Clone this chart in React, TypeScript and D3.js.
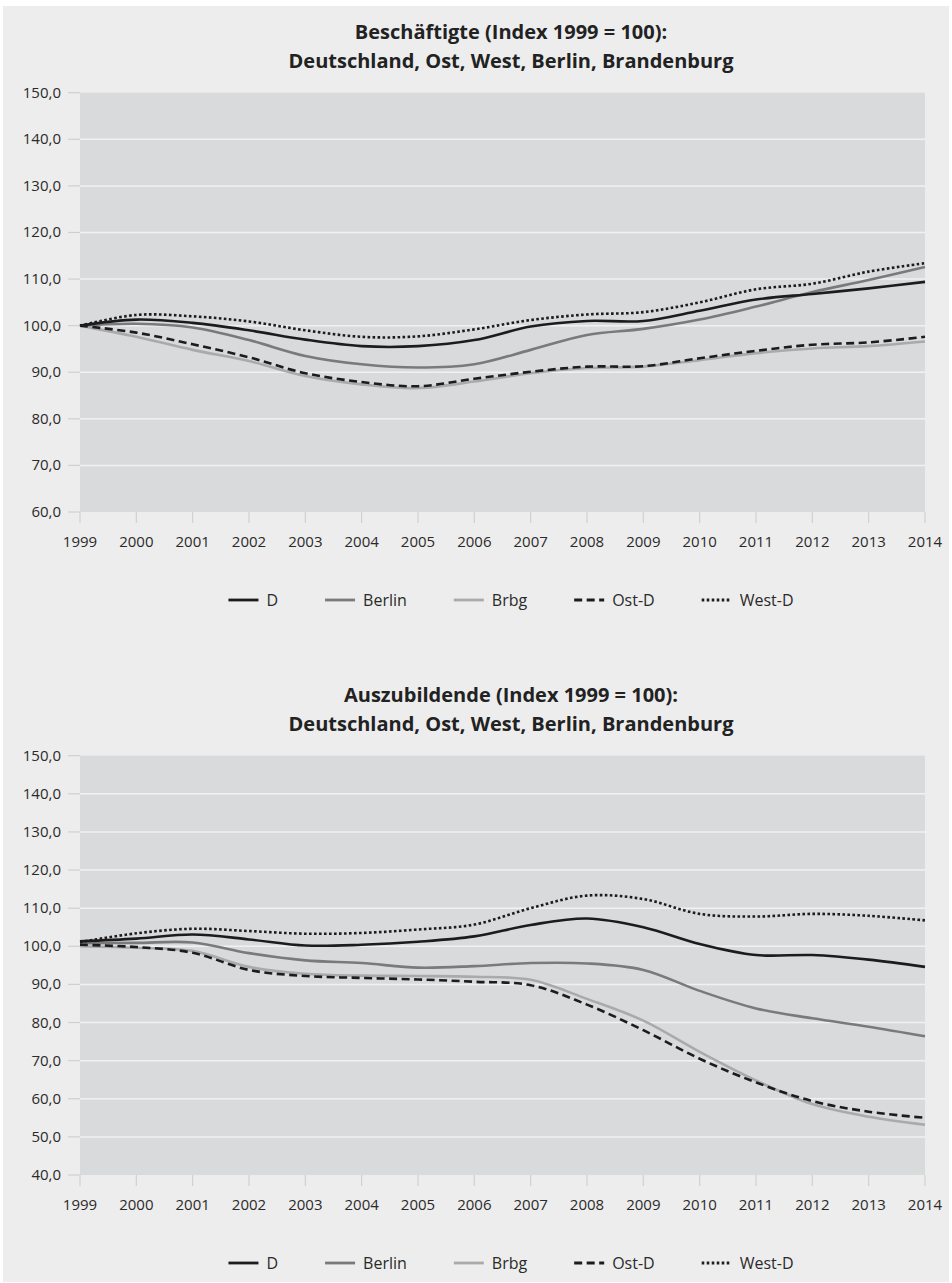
import { useEffect, useRef } from "react";
import * as d3 from "d3";

const years = [1999, 2000, 2001, 2002, 2003, 2004, 2005, 2006, 2007, 2008, 2009, 2010, 2011, 2012, 2013, 2014];
const seriesNames = ["D", "Berlin", "Brbg", "Ost-D", "West-D"];

// Beschäftigte
const empD = [100, 101.3, 100.6, 99.0, 97.0, 95.6, 95.6, 96.9, 99.8, 101.0, 101.0, 103.2, 105.6, 106.8, 108.0, 109.4];
const empBerlin = [100, 100.4, 99.6, 96.9, 93.5, 91.7, 91.0, 91.7, 94.8, 98.0, 99.3, 101.3, 104.1, 107.2, 109.8, 112.6];
const empBrbg = [100, 97.6, 94.8, 92.4, 89.2, 87.4, 86.6, 88.0, 89.8, 90.9, 91.2, 92.6, 94.1, 95.1, 95.6, 96.6];
const empOst = [100, 98.5, 96.0, 93.2, 89.8, 87.9, 87.0, 88.6, 90.1, 91.2, 91.3, 93.0, 94.6, 95.9, 96.4, 97.6];
const empWest = [100, 102.3, 102.0, 100.9, 99.0, 97.6, 97.7, 99.2, 101.2, 102.4, 102.9, 105.0, 107.8, 109.0, 111.6, 113.4];

// Auszubildende
const trainD = [101.3, 102.0, 103.1, 101.8, 100.2, 100.4, 101.2, 102.6, 105.6, 107.3, 105.0, 100.6, 97.7, 97.7, 96.5, 94.6];
const trainBerlin = [100.8, 100.9, 101.0, 98.2, 96.3, 95.6, 94.4, 94.8, 95.6, 95.5, 93.8, 88.3, 83.7, 81.1, 78.9, 76.4];
const trainBrbg = [100.0, 99.6, 98.8, 94.6, 92.8, 92.3, 92.2, 92.0, 91.2, 86.2, 80.5, 72.3, 64.8, 58.6, 55.3, 53.2];
const trainOst = [100.4, 99.8, 98.3, 93.8, 92.2, 91.7, 91.3, 90.7, 89.8, 84.7, 78.0, 70.5, 64.3, 59.4, 56.6, 55.0];
const trainWest = [101.1, 103.4, 104.6, 104.0, 103.3, 103.5, 104.4, 105.7, 110.0, 113.3, 112.4, 108.5, 107.8, 108.5, 108.0, 106.8];

const empTitle = ["Beschäftigte (Index 1999 = 100):", "Deutschland, Ost, West, Berlin, Brandenburg"];
const trainTitle = ["Auszubildende (Index 1999 = 100):", "Deutschland, Ost, West, Berlin, Brandenburg"];
const empTicks = [60, 70, 80, 90, 100, 110, 120, 130, 140, 150];
const trainTicks = [40, 50, 60, 70, 80, 90, 100, 110, 120, 130, 140, 150];

const styles: Record<string, { color: string; dash: string | null }> = {
  D: { color: "#1c1c1c", dash: null },
  Berlin: { color: "#7a7a7a", dash: null },
  Brbg: { color: "#aaaaaa", dash: null },
  "Ost-D": { color: "#1c1c1c", dash: "8,4.5" },
  "West-D": { color: "#1c1c1c", dash: "2.6,2.4" },
};
const drawOrder = ["Brbg", "Berlin", "Ost-D", "D", "West-D"];

const W = 952;
const H = 1283;
const FONT = "'Open Sans', 'DejaVu Sans', sans-serif";
const fmt = (v: number) => d3.format(".1f")(v).replace(".", ",");

interface ChartCfg {
  top: number;
  title: string[];
  ticks: number[];
  series: Record<string, number[]>;
}

function drawChart(svg: d3.Selection<SVGSVGElement, unknown, null, undefined>, cfg: ChartCfg) {
  const g = svg.append("g").attr("transform", `translate(0,${cfg.top})`);
  const plotTop = 92.7;
  const plotBottom = 512;
  const x = d3.scaleLinear().domain([1999, 2014]).range([80, 925]);
  const y = d3
    .scaleLinear()
    .domain([d3.min(cfg.ticks)!, d3.max(cfg.ticks)!])
    .range([plotBottom, plotTop]);

  // titles
  g.selectAll(".title")
    .data(cfg.title)
    .join("text")
    .attr("x", 511)
    .attr("y", (_, i) => 39 + i * 29)
    .attr("text-anchor", "middle")
    .attr("font-family", FONT)
    .attr("font-weight", 700)
    .attr("font-size", 20)
    .attr("fill", "#222")
    .text((d) => d);

  g.append("rect")
    .attr("x", x.range()[0])
    .attr("y", plotTop)
    .attr("width", x.range()[1] - x.range()[0])
    .attr("height", plotBottom - plotTop)
    .attr("fill", "#d9dadc");

  // grid
  g.selectAll(".grid")
    .data(cfg.ticks.slice(1, -1))
    .join("line")
    .attr("x1", x.range()[0])
    .attr("x2", x.range()[1])
    .attr("y1", (d) => y(d))
    .attr("y2", (d) => y(d))
    .attr("stroke", "#f1f1f1")
    .attr("stroke-width", 1.5);

  // y axis ticks + labels
  g.selectAll(".ytick")
    .data(cfg.ticks)
    .join("line")
    .attr("x1", 68)
    .attr("x2", 80)
    .attr("y1", (d) => y(d))
    .attr("y2", (d) => y(d))
    .attr("stroke", "#d0d0d0")
    .attr("stroke-width", 1.2);
  g.selectAll(".ylab")
    .data(cfg.ticks)
    .join("text")
    .attr("x", 61)
    .attr("y", (d) => y(d) + 5)
    .attr("text-anchor", "end")
    .attr("font-family", FONT)
    .attr("font-size", 15)
    .attr("fill", "#2a2a2a")
    .text((d) => fmt(d));

  // x axis
  g.selectAll(".xtick")
    .data(years)
    .join("line")
    .attr("x1", (d) => x(d))
    .attr("x2", (d) => x(d))
    .attr("y1", plotBottom)
    .attr("y2", plotBottom + 11)
    .attr("stroke", "#d0d0d0")
    .attr("stroke-width", 1.2);
  g.selectAll(".xlab")
    .data(years)
    .join("text")
    .attr("x", (d) => x(d))
    .attr("y", plotBottom + 35)
    .attr("text-anchor", "middle")
    .attr("font-family", FONT)
    .attr("font-size", 15)
    .attr("fill", "#2a2a2a")
    .text((d) => String(d));

  const line = d3
    .line<number>()
    .x((_, i) => x(years[i]))
    .y((d) => y(d))
    .curve(d3.curveCatmullRom.alpha(0.5));

  drawOrder.forEach((name) => {
    const st = styles[name];
    g.append("path")
      .attr("d", line(cfg.series[name]) ?? "")
      .attr("fill", "none")
      .attr("stroke", st.color)
      .attr("stroke-width", 2.6)
      .attr("stroke-dasharray", st.dash)
      .attr("stroke-linejoin", "round");
  });

  // legend
  const legY = 600;
  const leg = g.append("g");
  const items = seriesNames.map((name) => {
    const it = leg.append("g");
    const st = styles[name];
    it.append("line")
      .attr("x1", 0)
      .attr("x2", 30)
      .attr("y1", legY)
      .attr("y2", legY)
      .attr("stroke", st.color)
      .attr("stroke-width", 2.8)
      .attr("stroke-dasharray", st.dash);
    const t = it
      .append("text")
      .attr("x", 38)
      .attr("y", legY + 5.5)
      .attr("font-family", FONT)
      .attr("font-size", 16)
      .attr("fill", "#2a2a2a")
      .text(name);
    const w = 38 + (t.node() as SVGTextElement).getComputedTextLength();
    return { it, w };
  });
  const gap = 47;
  const total = d3.sum(items, (d) => d.w) + gap * (items.length - 1);
  let cx = 511 - total / 2;
  items.forEach(({ it, w }) => {
    it.attr("transform", `translate(${cx},0)`);
    cx += w + gap;
  });
}

export default function App() {
  const ref = useRef<SVGSVGElement>(null);

  useEffect(() => {
    const svg = d3.select(ref.current!);
    svg.selectAll("*").remove();
    svg.append("rect").attr("width", W).attr("height", H).attr("fill", "#ffffff");
    svg.append("rect").attr("x", 3).attr("y", 6).attr("width", 946).attr("height", 1276).attr("fill", "#ededed");

    drawChart(svg, {
      top: 0,
      title: empTitle,
      ticks: empTicks,
      series: { D: empD, Berlin: empBerlin, Brbg: empBrbg, "Ost-D": empOst, "West-D": empWest },
    });
    drawChart(svg, {
      top: 663,
      title: trainTitle,
      ticks: trainTicks,
      series: { D: trainD, Berlin: trainBerlin, Brbg: trainBrbg, "Ost-D": trainOst, "West-D": trainWest },
    });
  }, []);

  return (
    <svg
      ref={ref}
      width={W}
      height={H}
      style={{ position: "absolute", left: 0, top: 0, display: "block" }}
    />
  );
}
